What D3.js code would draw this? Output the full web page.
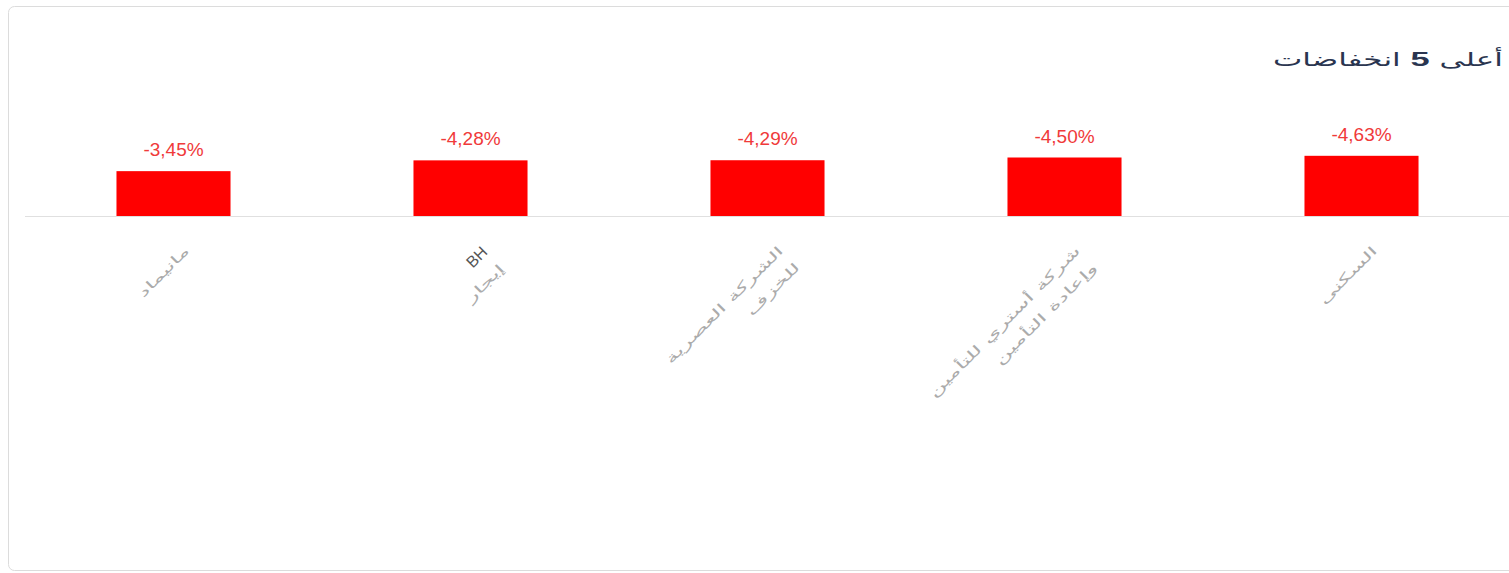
<!DOCTYPE html>
<html>
<head>
<meta charset="utf-8">
<script src="https://cdn.jsdelivr.net/npm/d3@7"></script>
<style>
  body { margin: 0; background: #fff; font-family: "DejaVu Sans", "Noto Sans", sans-serif; }
</style>
</head>
<body>
<script>
// data
const categories = ['مانيماد', 'BH إيجار', 'الشركة العصرية للخزف', 'شركة أستري للتأمين وإعادة التأمين', 'السكنى'];
const labelLines = [['مانيماد'], ['BH', 'إيجار'], ['الشركة العصرية', 'للخزف'], ['شركة أستري للتأمين', 'وإعادة التأمين'], ['السكنى']];
const values = [-3.45, -4.28, -4.29, -4.50, -4.63];
const titleParts = ['أعلى ', '5', ' انخفاضات'];

const W = 1509, H = 573;
// the source renders arabic letters unjoined, so text comes out wider
const stretch = 1.85;

const svg = d3.select('body').append('svg')
  .attr('width', W)
  .attr('height', H);

// card
svg.append('rect')
  .attr('x', 8.5).attr('y', 6.5)
  .attr('width', 1520).attr('height', 564)
  .attr('rx', 6)
  .attr('fill', '#fff')
  .attr('stroke', '#dcdcdc');

const t = svg.append('text')
  .attr('x', 1503).attr('y', 66)
  .attr('text-anchor', 'start')
  .attr('direction', 'rtl')
  .attr('font-size', 19)
  .attr('fill', '#2a3550');
t.selectAll('tspan')
  .data(titleParts)
  .enter()
  .append('tspan')
  .attr('font-weight', p => p === '5' ? 'bold' : null)
  .attr('font-family', p => p === '5' ? 'Liberation Sans, Arial, sans-serif' : null)
  .attr('font-size', p => p === '5' ? 21 : null)
  .text(p => p);
t.attr('textLength', 230).attr('lengthAdjust', 'spacingAndGlyphs');

const x = d3.scaleBand()
  .domain(categories)
  .range([25, 1510])
  .paddingInner(0.616)
  .paddingOuter(0.308);

const y = d3.scaleLinear()
  .domain([0, 5])
  .range([216, 151]);

const data = categories.map((c, i) => ({ cat: c, v: values[i], lines: labelLines[i] }));

// baseline
svg.append('line')
  .attr('x1', 25).attr('x2', W)
  .attr('y1', 216.5).attr('y2', 216.5)
  .attr('stroke', '#e0e0e0');

svg.append('g')
  .selectAll('rect')
  .data(data)
  .enter()
  .append('rect')
  .attr('x', d => x(d.cat))
  .attr('y', d => y(Math.abs(d.v)))
  .attr('width', x.bandwidth())
  .attr('height', d => y(0) - y(Math.abs(d.v)))
  .attr('fill', '#ff0000');

svg.append('g')
  .selectAll('text')
  .data(data)
  .enter()
  .append('text')
  .attr('x', d => x(d.cat) + x.bandwidth() / 2)
  .attr('y', d => y(Math.abs(d.v)) - 15)
  .attr('text-anchor', 'middle')
  .attr('font-family', 'Liberation Sans, Arial, sans-serif')
  .attr('font-size', 19)
  .attr('fill', '#f03a3a')
  .text(d => d3.format('.2f')(d.v).replace('.', ',').replace('−', '-') + '%');

// rotated category labels
const lab = svg.append('g')
  .selectAll('text')
  .data(data)
  .enter()
  .append('text')
  .attr('transform', d => `translate(${x(d.cat) + x.bandwidth() / 2 + 10},${245}) rotate(-45)`)
  .attr('text-anchor', 'end')
  .attr('font-size', 13)
  .attr('fill', '#ababab');

lab.selectAll('tspan')
  .data(d => d.lines)
  .enter()
  .append('tspan')
  .attr('x', 0)
  .attr('dy', (l, i) => i === 0 ? '0.71em' : '1.8em')
  .attr('fill', l => l === 'BH' ? '#555' : null)
  .attr('font-family', l => l === 'BH' ? 'Liberation Sans, Arial, sans-serif' : null)
  .attr('font-size', l => l === 'BH' ? 16 : null)
  .text(l => l)
  .each(function (l) {
    if (l === 'BH') return;
    const len = this.getComputedTextLength();
    d3.select(this)
      .attr('textLength', len * stretch)
      .attr('lengthAdjust', 'spacingAndGlyphs');
  });
</script>
</body>
</html>
